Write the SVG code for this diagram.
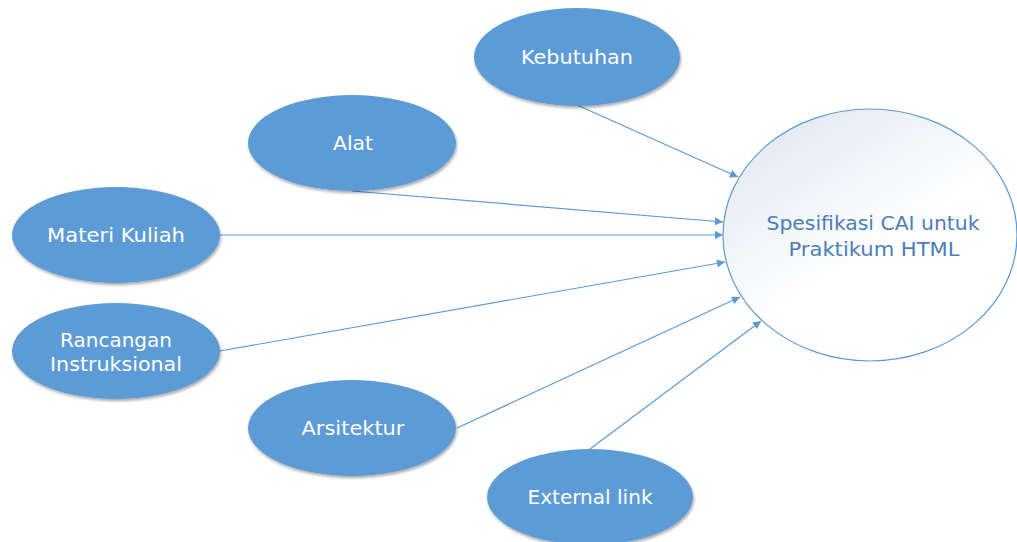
<svg xmlns="http://www.w3.org/2000/svg" width="1017" height="542" viewBox="0 0 1017 542">
  <style>
    .node { fill: #5B9BD5; filter: url(#sh); }
    .lbl { font-family: "DejaVu Sans", "Liberation Sans", sans-serif; font-size: 19.5px; fill: #ffffff; text-anchor: middle; }
    .big { fill: url(#g); stroke: #5B9BD5; stroke-width: 1.2; }
    .blbl { font-family: "DejaVu Sans", "Liberation Sans", sans-serif; font-size: 19.5px; fill: #4A7EBB; text-anchor: middle; }
    .conn { stroke: #5B9BD5; stroke-width: 1.2; fill: none; marker-end: url(#ah); }
  </style>
  <defs>
    <linearGradient id="g" x1="0.15" y1="0.1" x2="0.75" y2="0.9">
      <stop offset="0" stop-color="#E4EAF2"/>
      <stop offset="0.6" stop-color="#FFFFFF"/>
      <stop offset="1" stop-color="#FFFFFF"/>
    </linearGradient>
    <filter id="sh" x="-10%" y="-10%" width="125%" height="130%">
      <feGaussianBlur in="SourceAlpha" stdDeviation="1.5"/>
      <feOffset dx="1" dy="1.5" result="b"/>
      <feComponentTransfer><feFuncA type="linear" slope="0.35"/></feComponentTransfer>
      <feMerge><feMergeNode/><feMergeNode in="SourceGraphic"/></feMerge>
    </filter>
    <marker id="ah" viewBox="0 0 10 10" refX="10" refY="5" markerWidth="10" markerHeight="8" markerUnits="userSpaceOnUse" orient="auto">
      <path d="M0,0 L10,5 L0,10 z" fill="#5B9BD5"/>
    </marker>
  </defs>
  <rect width="1017" height="542" fill="#ffffff"/>
  <g id="connectors">
    <line class="conn" x1="577" y1="105" x2="738" y2="177"/>
    <line class="conn" x1="352" y1="191" x2="723" y2="222"/>
    <line class="conn" x1="220" y1="235" x2="723" y2="235"/>
    <line class="conn" x1="220" y1="351" x2="725" y2="262"/>
    <line class="conn" x1="457" y1="428" x2="740" y2="297"/>
    <line class="conn" x1="590" y1="449" x2="761" y2="321"/>
  </g>
  <g id="spesifikasi">
    <ellipse class="big" cx="870" cy="235" rx="147" ry="126"/>
    <text class="blbl" x="873" y="230" textLength="213" lengthAdjust="spacingAndGlyphs">Spesifikasi CAI untuk</text>
    <text class="blbl" x="874" y="256" textLength="171" lengthAdjust="spacingAndGlyphs">Praktikum HTML</text>
  </g>
  <g id="kebutuhan">
    <ellipse class="node" cx="577" cy="57" rx="103" ry="49"/>
    <text class="lbl" x="577" y="64" textLength="112" lengthAdjust="spacingAndGlyphs">Kebutuhan</text>
  </g>
  <g id="alat">
    <ellipse class="node" cx="352" cy="143" rx="104" ry="48"/>
    <text class="lbl" x="353" y="150" textLength="40" lengthAdjust="spacingAndGlyphs">Alat</text>
  </g>
  <g id="materi">
    <ellipse class="node" cx="116" cy="235" rx="104" ry="48"/>
    <text class="lbl" x="116" y="242" textLength="138" lengthAdjust="spacingAndGlyphs">Materi Kuliah</text>
  </g>
  <g id="rancangan">
    <ellipse class="node" cx="116" cy="351" rx="104" ry="48"/>
    <text class="lbl" x="116" y="347" textLength="112" lengthAdjust="spacingAndGlyphs">Rancangan</text>
    <text class="lbl" x="116" y="371" textLength="132" lengthAdjust="spacingAndGlyphs">Instruksional</text>
  </g>
  <g id="arsitektur">
    <ellipse class="node" cx="352" cy="428" rx="104" ry="48"/>
    <text class="lbl" x="353" y="435" textLength="103" lengthAdjust="spacingAndGlyphs">Arsitektur</text>
  </g>
  <g id="external">
    <ellipse class="node" cx="590" cy="497" rx="103" ry="48"/>
    <text class="lbl" x="590" y="504" textLength="125" lengthAdjust="spacingAndGlyphs">External link</text>
  </g>
</svg>
